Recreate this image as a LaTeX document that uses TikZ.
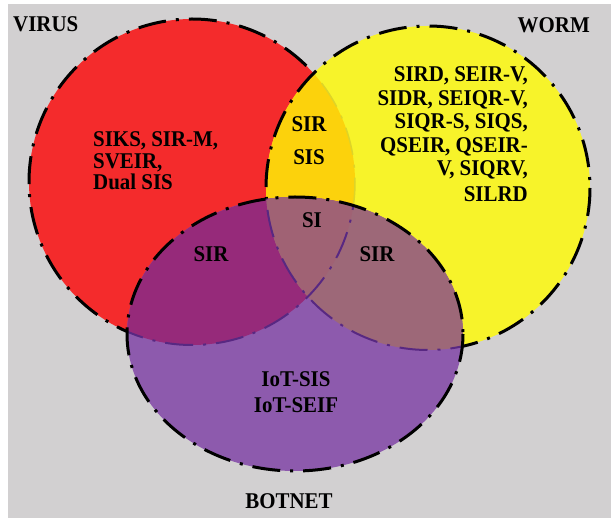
\documentclass[tikz,border=0pt]{standalone}
\usepackage{fontspec}
\setmainfont{Liberation Serif}[FakeStretch=0.93]

\definecolor{bggray}{RGB}{210,208,209}
\definecolor{virusred}{RGB}{244,43,44}
\definecolor{wormyellow}{RGB}{247,243,42}
\definecolor{vworange}{RGB}{252,210,12}
\definecolor{botpurple}{RGB}{141,90,173}
\definecolor{vbmagenta}{RGB}{150,42,122}
\definecolor{wbmauve}{RGB}{157,104,120}
\definecolor{allcore}{RGB}{160,98,116}
\definecolor{inneredge}{RGB}{88,40,130}
\definecolor{fadededge}{RGB}{222,212,40}

% the three sets
\newcommand{\VirusPath}{(192,182) circle[radius=163]}
\newcommand{\WormPath}{(428,188) circle[radius=162]}
\newcommand{\BotPath}{(295,334) ellipse[x radius=168, y radius=137]}

\begin{document}
\begin{tikzpicture}[x=1pt,y=-1pt,
  setedge/.style={line width=3pt, dash pattern=on 28pt off 10pt on 3pt off 10pt},
  lbl/.style={font=\fontsize{22.5}{23}\selectfont\bfseries, text=black, inner sep=0pt}]
\useasboundingbox (0,0) rectangle (611,518);
\fill[white] (0,0) rectangle (611,518);
\fill[bggray] (8,4) rectangle (611,518);

% virus set
\fill[virusred] \VirusPath;
\draw[setedge, black] \VirusPath;

% worm set, with its overlap on the virus set
\fill[wormyellow] \WormPath;
\begin{scope}
  \clip \VirusPath;
  \fill[vworange] \WormPath;
\end{scope}
\begin{scope}
  \clip \WormPath;
  \draw[setedge, fadededge, line width=1.5pt] \VirusPath;
\end{scope}
\draw[setedge, black] \WormPath;

% botnet set and its overlaps
\fill[botpurple] \BotPath;
\begin{scope}
  \clip \BotPath;
  \fill[vbmagenta] \VirusPath;
  \fill[wbmauve] \WormPath;
  \clip \VirusPath;
  \fill[allcore] \WormPath;
\end{scope}
\begin{scope}
  \clip \BotPath;
  \draw[setedge, inneredge, line width=2pt] \VirusPath;
  \draw[setedge, inneredge, line width=2pt] \WormPath;
\end{scope}
\draw[setedge, black] \BotPath;

% set names
\node[lbl, anchor=base west] (virus) at (13,32) {VIRUS};
\node[lbl, anchor=base east] (worm) at (590,33) {WORM};
\node[lbl, anchor=base] (botnet) at (289,509) {BOTNET};

% models in each region (a multi-line node sits on its last baseline)
\node[lbl, anchor=base west, align=left, font=\fontsize{22.5}{21.7}\selectfont\bfseries]
  (vonly) at (93,190) {SIKS, SIR-M,\\SVEIR,\\Dual SIS};
\node[lbl, anchor=base east, align=right, font=\fontsize{22.5}{23.4}\selectfont\bfseries]
  (wonly) at (528,202) {SIRD, SEIR-V,\\SIDR, SEIQR-V,\\SIQR-S, SIQS,\\QSEIR, QSEIR-\\V, SIQRV,\\[3pt]SILRD};
\node[lbl, anchor=base, align=center, font=\fontsize{22.5}{33}\selectfont\bfseries]
  (vw) at (309,165) {SIR\\SIS};
\node[lbl, anchor=base] (vwb) at (312,228) {SI};
\node[lbl, anchor=base] (vb) at (211,262) {SIR};
\node[lbl, anchor=base] (wb) at (377,262) {SIR};
\node[lbl, anchor=base, align=center, font=\fontsize{22.5}{26}\selectfont\bfseries]
  (bonly) at (296,413) {IoT-SIS\\IoT-SEIF};
\end{tikzpicture}
\end{document}
